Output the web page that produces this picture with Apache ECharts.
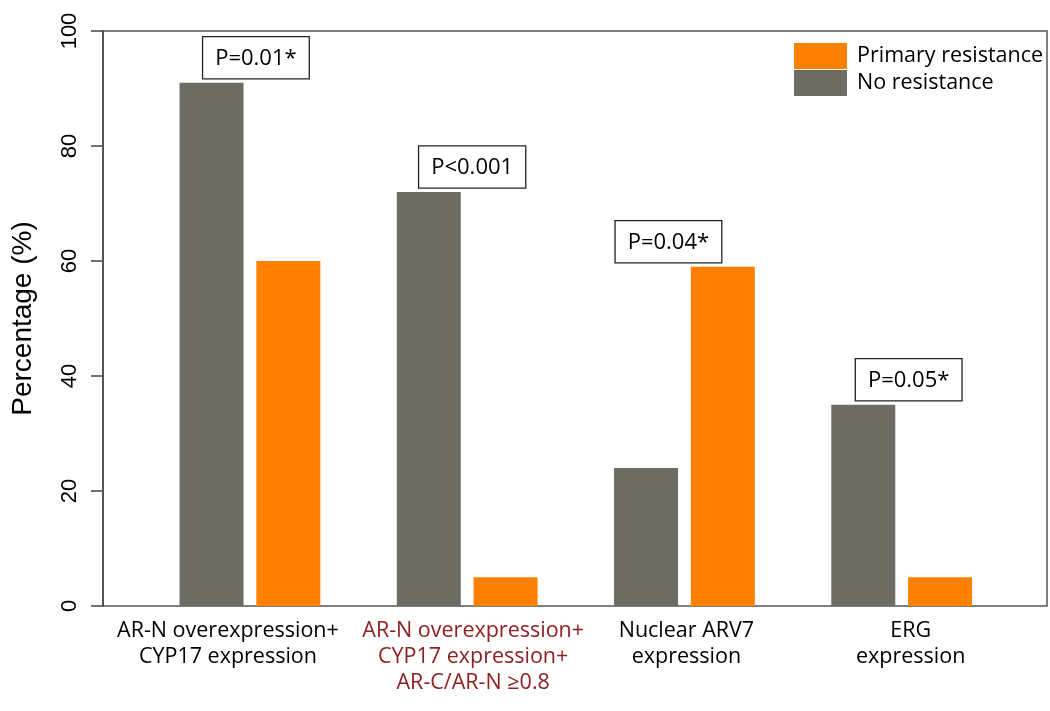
<!DOCTYPE html>
<html>
<head>
<meta charset="utf-8">
<script src="https://cdn.jsdelivr.net/npm/echarts@6/dist/echarts.min.js"></script>
<style>html,body{margin:0;padding:0;background:#fff}#c{width:1050px;height:711px}</style>
</head>
<body>
<div id="c"></div>
<script>
const categories = ['AR-N overexpression+\nCYP17 expression', 'AR-N overexpression+\nCYP17 expression+\nAR-C/AR-N \u22650.8', 'Nuclear ARV7\nexpression', 'ERG\nexpression'];
const noResistance = [91, 72, 24, 35];
const primaryResistance = [60, 5, 59, 5];
const pLabels = ['P=0.01*', 'P<0.001', 'P=0.04*', 'P=0.05*'];
const yTicks = [0, 20, 40, 60, 80, 100];
const highlighted = [1];

// layout-only tweaks (pixel offsets of annotation boxes and category labels)
const labelShiftX = [6, 5, -16, 7];
const catShiftX = [-22, 6, 2, 9];

const GRAY = '#6d6c62';
const ORANGE = '#fe8000';
const catFont = '"Open Sans", "Noto Sans", sans-serif';
const arial = '"Liberation Sans", Arial, sans-serif';

function catItem(c, i) {
  const s = catShiftX[i];
  const ts = {padding: s < 0 ? [0, -2 * s, 0, 0] : [0, 0, 0, 2 * s]};
  if (highlighted.includes(i)) ts.color = '#8f1f22';
  return {value: c, textStyle: ts};
}

const chart = echarts.init(document.getElementById('c'));
chart.setOption({
  animation: false,
  backgroundColor: '#fff',
  grid: [
    {left: 103, right: 3, top: 31, bottom: 105, show: true, borderColor: '#555', borderWidth: 1.5, backgroundColor: 'transparent'},
    {left: 141.3, width: 869, top: 31, bottom: 105}
  ],
  legend: {
    orient: 'vertical', left: 789, top: 38, itemWidth: 53, itemHeight: 26, itemGap: 1,
    icon: 'rect',
    data: ['Primary resistance', 'No resistance'],
    textStyle: {fontFamily: catFont, fontSize: 21.5, color: '#000', padding: [0, 0, 0, 5]}
  },
  xAxis: [
    {gridIndex: 0, type: 'value', min: 0, max: 1, show: false},
    {gridIndex: 1, type: 'category', data: categories.map(catItem),
     axisLine: {show: false}, axisTick: {show: false},
     axisLabel: {interval: 0, margin: 12, fontFamily: catFont, fontSize: 21.5, lineHeight: 26, color: '#000'}}
  ],
  yAxis: [
    {gridIndex: 0, type: 'value', min: yTicks[0], max: yTicks[yTicks.length - 1], interval: 20,
     name: 'Percentage (%)', nameLocation: 'middle', nameGap: 66,
     nameTextStyle: {fontFamily: arial, fontSize: 28, color: '#000'},
     axisLine: {show: true, lineStyle: {color: '#444', width: 1.5}},
     axisTick: {show: true, length: 12, lineStyle: {color: '#444', width: 1.5}},
     splitLine: {show: false},
     axisLabel: {rotate: 90, margin: 22, fontFamily: arial, fontSize: 22, color: '#000'}},
    {gridIndex: 1, type: 'value', min: 0, max: 100, show: false}
  ],
  series: [
    {name: 'No resistance', type: 'bar', xAxisIndex: 1, yAxisIndex: 1, data: noResistance, barWidth: 64, barGap: '20%', itemStyle: {color: GRAY}},
    {name: 'Primary resistance', type: 'bar', xAxisIndex: 1, yAxisIndex: 1, data: primaryResistance, barWidth: 64, barGap: '20%', itemStyle: {color: ORANGE}},
    {name: 'p', type: 'scatter', xAxisIndex: 1, yAxisIndex: 1, symbol: 'circle', symbolSize: 1,
     itemStyle: {color: 'rgba(0,0,0,0)', opacity: 1}, silent: true,
     data: categories.map((c, i) => ({value: [i, Math.max(noResistance[i], primaryResistance[i])], name: pLabels[i], label: {offset: [labelShiftX[i], 0]}})),
     label: {show: true, position: 'top', distance: 4, formatter: p => p.name,
       fontFamily: catFont, fontSize: 22, color: '#000', lineHeight: 26,
       backgroundColor: '#fff', borderColor: '#222', borderWidth: 1.3, padding: [8, 12, 7, 12]}}
  ]
});
</script>
</body>
</html>
